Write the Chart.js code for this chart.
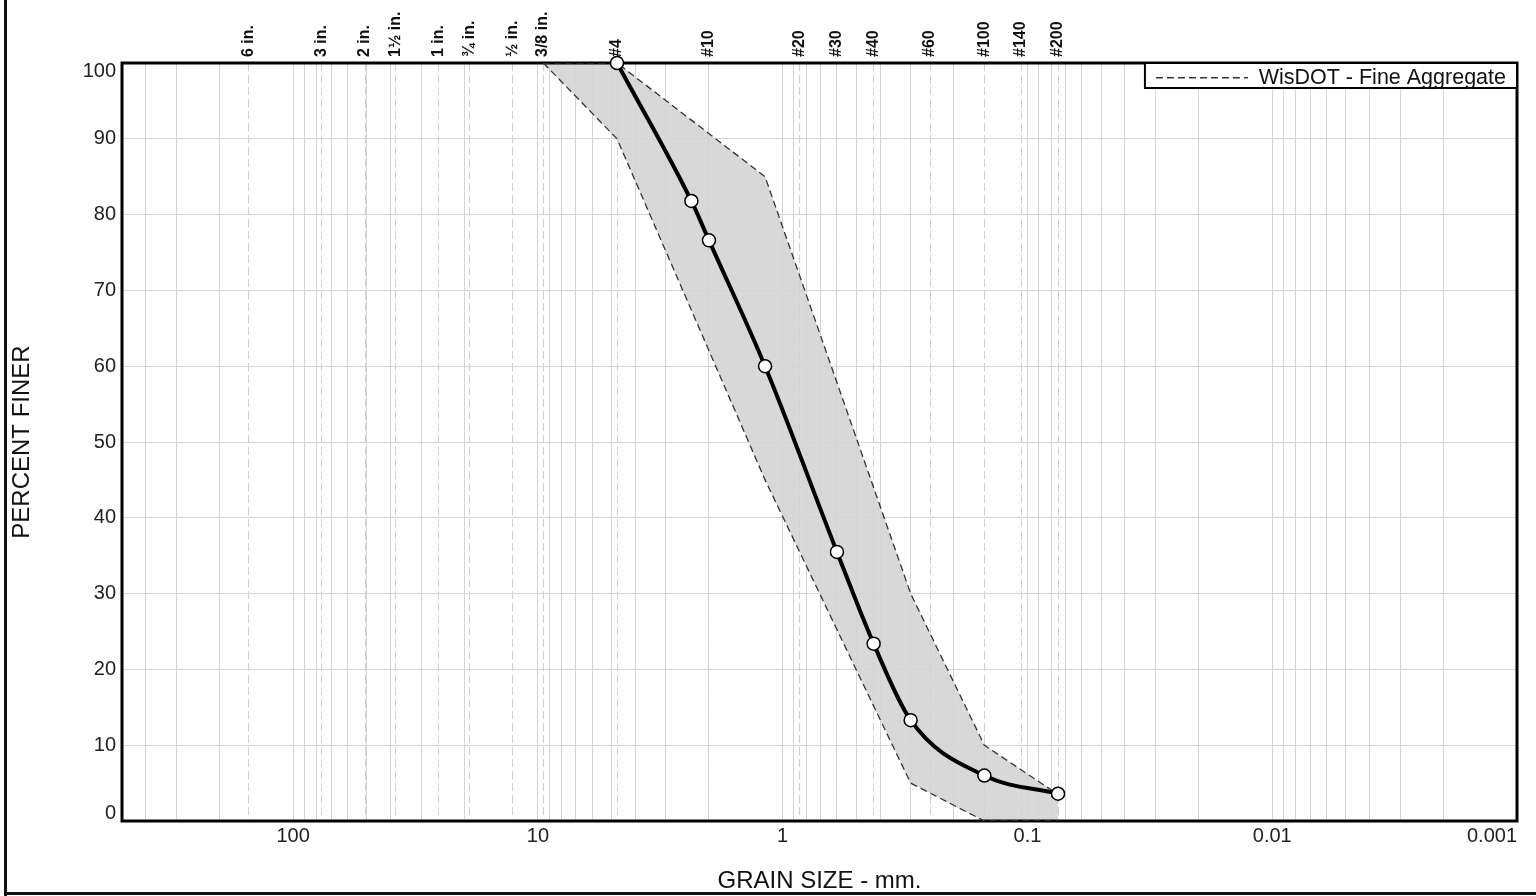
<!DOCTYPE html>
<html>
<head>
<meta charset="utf-8">
<title>Gradation</title>
<script src="https://cdn.jsdelivr.net/npm/chart.js@4.4.0/dist/chart.umd.min.js"></script>
<style>
    html, body { margin: 0; padding: 0; background: #fff; }
    canvas { display: block; }
</style>
</head>
<body>
<canvas id="gradationChart" width="1536" height="896"></canvas>
<script>
// sample gradation (sieve opening in mm, percent finer)
const sampleSizes = [4.75, 2.36, 2.0, 1.18, 0.6, 0.425, 0.3, 0.15, 0.075];
const samplePercent = [100, 81.8, 76.6, 60.0, 35.5, 23.4, 13.3, 6.0, 3.6];

// WisDOT fine aggregate band
const specSizes = [9.5, 4.75, 1.18, 0.3, 0.15, 0.075];
const specUpper = [100, 100, 85, 30, 10, 3.5];
const specLower = [100, 90, 45, 5, 0, 0];

// sieve ticks on top axis
const sieveSizes = [152.4, 76.2, 50.8, 38.1, 25.4, 19.05, 12.7, 9.525, 4.75, 2.0, 0.85, 0.6, 0.425, 0.25, 0.15, 0.106, 0.075];
const sieveLabels = ['6 in.', '3 in.', '2 in.', '1½ in.', '1 in.', '¾ in.', '½ in.', '3/8 in.', '#4', '#10', '#20', '#30', '#40', '#60', '#100', '#140', '#200'];

// grain size axis
const decadeValues = [0.001, 0.01, 0.1, 1, 10, 100];
const decadeLabels = ['0.001', '0.01', '0.1', '1', '10', '100'];
const sizeMin = 0.001;
const sizeMax = 500;

const fontFamily = "'Liberation Sans', Arial, sans-serif";
const gridColor = '#d4d4d4';
const bandDash = [7, 4];

Chart.defaults.font.family = fontFamily;
Chart.defaults.color = '#111';

// minor log grid: 1..9 x each decade
const sizeGrid = [];
decadeValues.forEach(d => {
    for (let m = 1; m <= 9; m++) {
        const v = +(m * d).toPrecision(6);
        if (v <= sizeMax) sizeGrid.push(v);
    }
});

function pairs(xs, ys) {
    return xs.map((x, i) => ({ x: x, y: ys[i] }));
}

const framePlugin = {
    id: 'frame',
    afterUpdate(chart) {
        const lg = chart.legend;
        const ca = chart.chartArea;
        if (!lg || !lg.legendHitBoxes.length) return;
        const pad = lg.options.labels.padding;
        const w = lg.legendHitBoxes[0].width;
        lg.left = ca.right - 11 - w - pad;
        lg.right = lg.left + lg.width;
        lg.top = ca.top;
    },
    beforeDatasetsDraw(chart) {
        const { ctx, chartArea: ca } = chart;
        ctx.save();
        ctx.strokeStyle = '#000';
        ctx.lineWidth = 3;
        ctx.strokeRect(ca.left, ca.top, ca.right - ca.left, ca.bottom - ca.top);
        ctx.restore();
    },
    afterDraw(chart) {
        const { ctx, chartArea: ca } = chart;
        const lg = chart.legend;
        ctx.save();
        // legend box
        const w = lg.legendHitBoxes[0].width;
        const bx = ca.right - 22 - w;
        ctx.fillStyle = '#fff';
        ctx.fillRect(bx, ca.top, ca.right - bx, 25);
        ctx.strokeStyle = '#000';
        ctx.lineWidth = 2;
        ctx.strokeRect(bx, ca.top, ca.right - bx, 25);
        ctx.restore();
        lg.draw();
        // outer frame
        ctx.save();
        ctx.fillStyle = '#111';
        ctx.fillRect(4, 0, 3, 896);
        ctx.fillRect(4, 892, 1532, 3);
        ctx.restore();
    }
};

const ctx = document.getElementById('gradationChart');

new Chart(ctx, {
    type: 'line',
    data: {
        datasets: [
            {
                label: 'WisDOT - Fine Aggregate',
                data: pairs(specSizes, specUpper),
                borderColor: '#333',
                borderWidth: 1.3,
                borderDash: bandDash,
                backgroundColor: 'rgb(216, 216, 216)',
                fill: '+1',
                pointRadius: 0,
                tension: 0,
                order: 1
            },
            {
                label: 'lower',
                data: pairs(specSizes, specLower),
                borderColor: '#333',
                borderWidth: 1.3,
                borderDash: bandDash,
                fill: false,
                pointRadius: 0,
                tension: 0,
                order: 1
            },
            {
                label: 'Sample',
                data: pairs(sampleSizes, samplePercent),
                borderColor: '#000',
                borderWidth: 4,
                cubicInterpolationMode: 'monotone',
                pointRadius: 6.5,
                pointBackgroundColor: '#fff',
                pointBorderColor: '#000',
                pointBorderWidth: 1.5,
                fill: false,
                clip: false,
                order: 0
            }
        ]
    },
    options: {
        responsive: false,
        animation: false,
        layout: { padding: { left: 0, right: 19, top: 0, bottom: 0 } },
        plugins: {
            filler: { drawTime: 'beforeDraw' },
            tooltip: { enabled: false },
            legend: {
                position: 'chartArea',
                align: 'start',
                labels: {
                    usePointStyle: true,
                    pointStyle: 'line',
                    pointStyleWidth: 92,
                    boxHeight: 21,
                    padding: 4,
                    color: '#111',
                    font: { size: 21.5 },
                    generateLabels: chart => {
                        const items = Chart.defaults.plugins.legend.labels.generateLabels(chart);
                        return items.filter(it => it.datasetIndex === 0).map(it => {
                            it.lineDash = bandDash;
                            it.lineWidth = 1.3;
                            it.strokeStyle = '#333';
                            return it;
                        });
                    }
                }
            }
        },
        scales: {
            x: {
                type: 'logarithmic',
                position: 'bottom',
                min: sizeMin,
                max: sizeMax,
                reverse: true,
                afterBuildTicks: scale => {
                    scale.ticks = sizeGrid.map(v => ({ value: v }));
                },
                afterFit: scale => { scale.height = 75; },
                grid: { color: gridColor, lineWidth: 1, drawTicks: false },
                border: { display: false },
                ticks: {
                    autoSkip: false,
                    minRotation: 0,
                    maxRotation: 0,
                    align: 'inner',
                    padding: 3,
                    color: '#222',
                    font: { size: 20 },
                    callback: value => {
                        const k = decadeValues.findIndex(d => Math.abs(value / d - 1) < 1e-6);
                        return k >= 0 ? decadeLabels[k] : '';
                    }
                },
                title: {
                    display: true,
                    text: 'GRAIN SIZE - mm.',
                    color: '#111',
                    font: { size: 24 },
                    padding: { top: 0, bottom: 0 }
                }
            },
            xTop: {
                type: 'logarithmic',
                position: 'top',
                min: sizeMin,
                max: sizeMax,
                reverse: true,
                afterBuildTicks: scale => {
                    scale.ticks = sieveSizes.map(v => ({ value: v }));
                },
                afterFit: scale => { scale.height = 63; },
                grid: { color: '#d0d0d0', lineWidth: 1, drawTicks: false },
                border: { display: false, dash: [8, 4] },
                ticks: {
                    autoSkip: false,
                    minRotation: 90,
                    maxRotation: 90,
                    padding: 6,
                    labelOffset: 19,
                    color: '#111',
                    font: { size: 16, weight: 'bold' },
                    callback: (value, i) => sieveLabels[i]
                }
            },
            y: {
                min: 0,
                max: 100,
                afterFit: scale => { scale.width = 122; },
                grid: { color: gridColor, lineWidth: 1, drawTicks: false },
                border: { display: false },
                ticks: {
                    stepSize: 10,
                    padding: 6,
                    color: '#222',
                    font: { size: 20, lineHeight: 0.8 },
                    callback: value => {
                        if (value === 100) return ['', '100'];
                        if (value === 0) return ['0', ''];
                        return String(value);
                    }
                },
                title: {
                    display: true,
                    text: 'PERCENT FINER',
                    color: '#111',
                    font: { size: 24 },
                    padding: { top: 8, bottom: 0 }
                }
            }
        }
    },
    plugins: [framePlugin]
});
</script>
</body>
</html>
